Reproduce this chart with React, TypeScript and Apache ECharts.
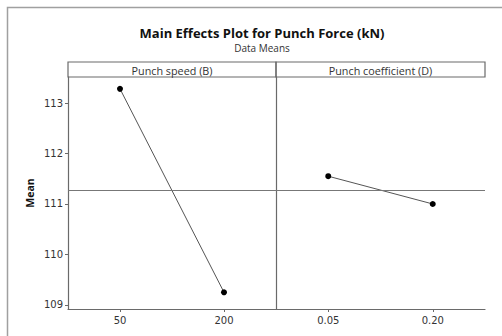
import React, { useEffect, useRef } from "react";
import * as echarts from "echarts";

const speedLevels = ["50", "200"];
const speedMeans = [113.28, 109.25];
const coefLevels = ["0.05", "0.20"];
const coefMeans = [111.55, 111.0];
const yTicks = [109, 110, 111, 112, 113];
const panelTitles = ["Punch speed (B)", "Punch coefficient (D)"];

const grandMean =
  (speedMeans.reduce((a, b) => a + b, 0) + coefMeans.reduce((a, b) => a + b, 0)) /
  (speedMeans.length + coefMeans.length);

const FONT = "Open Sans";
const TICKFONT = "DejaVu Sans";

export default function App() {
  const ref = useRef<HTMLDivElement>(null);
  useEffect(() => {
    document.body.style.margin = "0";
    const chart = echarts.init(ref.current!, null, { renderer: "svg" });
    const L = 68, M = 276, R = 485, T = 77, B = 309, ST = 62;
    const yMin = 108.92, yMax = 113.515;
    const axisLineStyle = { color: "#6a6a6a", width: 1.2 };
    const mkY = (idx: number, show: boolean) => ({
      type: "value",
      gridIndex: idx,
      min: yMin,
      max: yMax,
      axisLine: { show: true, lineStyle: axisLineStyle },
      axisTick: { show, length: 3, customValues: yTicks, lineStyle: { color: "#6a6a6a" } },
      axisLabel: { show, customValues: yTicks, fontFamily: TICKFONT, fontSize: 10, color: "#333", margin: 5 },
      splitLine: { show: false },
      name: show ? "Mean" : "",
      nameLocation: "middle",
      nameGap: 33,
      nameTextStyle: { fontFamily: FONT, fontWeight: "bold", fontSize: 10.5, color: "#111" },
    });
    const mkX = (idx: number, data: string[]) => ({
      type: "category",
      gridIndex: idx,
      data,
      boundaryGap: true,
      axisLine: { show: true, lineStyle: axisLineStyle },
      axisTick: { show: true, alignWithLabel: true, length: 3, lineStyle: { color: "#6a6a6a" } },
      axisLabel: { fontFamily: TICKFONT, fontSize: 10, color: "#333", margin: 6 },
    });
    const mkSeries = (idx: number, data: number[]) => ({
      type: "line",
      xAxisIndex: idx,
      yAxisIndex: idx,
      data,
      symbol: "circle",
      symbolSize: 6,
      itemStyle: { color: "#000" },
      lineStyle: { color: "#555", width: 1 },
      markLine: {
        silent: true,
        symbol: "none",
        label: { show: false },
        lineStyle: { color: "#777", width: 1, type: "solid" },
        data: [{ yAxis: grandMean }],
      },
    });
    chart.setOption({
      animation: false,
      title: {
        text: "Main Effects Plot for Punch Force (kN)",
        subtext: "Data Means",
        left: 257,
        textAlign: "center",
        top: 21,
        itemGap: 4,
        textStyle: { fontFamily: FONT, fontWeight: "bold", fontSize: 13, color: "#111" },
        subtextStyle: { fontFamily: FONT, fontSize: 10, color: "#333" },
      },
      grid: [
        { left: L, top: T, width: M - L, height: B - T },
        { left: M, top: T, width: R - M, height: B - T },
      ],
      xAxis: [mkX(0, speedLevels), mkX(1, coefLevels)],
      yAxis: [mkY(0, true), mkY(1, false)],
      series: [mkSeries(0, speedMeans), mkSeries(1, coefMeans)],
      graphic: [
        {
          type: "rect",
          shape: { x: 7.5, y: 7.5, width: 520, height: 360 },
          style: { fill: "none", stroke: "#a0a0a0", lineWidth: 1.5 },
          silent: true,
        },
        {
          type: "rect",
          shape: { x: L, y: ST, width: M - L, height: T - ST },
          style: { fill: "none", stroke: "#6a6a6a", lineWidth: 1.2 },
        },
        {
          type: "rect",
          shape: { x: M, y: ST, width: R - M, height: T - ST },
          style: { fill: "none", stroke: "#6a6a6a", lineWidth: 1.2 },
        },
        {
          type: "text",
          x: (L + M) / 2,
          y: (ST + T) / 2 + 0.5,
          style: { text: panelTitles[0], fontFamily: FONT, fontSize: 10.8, fill: "#333", align: "center", verticalAlign: "middle" },
        },
        {
          type: "text",
          x: (M + R) / 2,
          y: (ST + T) / 2 + 0.5,
          style: { text: panelTitles[1], fontFamily: FONT, fontSize: 10.8, fill: "#333", align: "center", verticalAlign: "middle" },
        },
      ],
    });
    return () => chart.dispose();
  }, []);
  return <div ref={ref} style={{ width: 502, height: 336 }} />;
}
